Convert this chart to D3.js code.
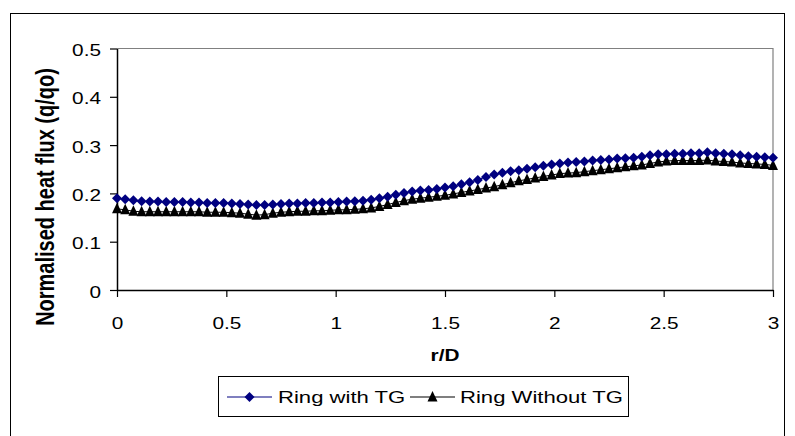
<!DOCTYPE html>
<html><head><meta charset="utf-8">
<script src="https://cdn.jsdelivr.net/npm/d3@7"></script>
<style>html,body{margin:0;padding:0;background:#fff}svg{display:block}text{font-family:"Liberation Sans",Arial,sans-serif}</style>
</head><body>
<svg id="c" width="795" height="436"></svg>
<script>
const rD = [0,0.0375,0.075,0.1125,0.15,0.1875,0.225,0.2625,0.3,0.3375,0.375,0.4125,0.45,0.4875,0.525,0.5625,0.6,0.6375,0.675,0.7125,0.75,0.7875,0.825,0.8625,0.9,0.9375,0.975,1.0125,1.05,1.0875,1.125,1.1625,1.2,1.2375,1.275,1.3125,1.35,1.3875,1.425,1.4625,1.5,1.5375,1.575,1.6125,1.65,1.6875,1.725,1.7625,1.8,1.8375,1.875,1.9125,1.95,1.9875,2.025,2.0625,2.1,2.1375,2.175,2.2125,2.25,2.2875,2.325,2.3625,2.4,2.4375,2.475,2.5125,2.55,2.5875,2.625,2.6625,2.7,2.7375,2.775,2.8125,2.85,2.8875,2.925,2.9625,3.0];
const withTG = [0.190,0.188,0.186,0.184,0.183,0.183,0.182,0.182,0.182,0.181,0.181,0.180,0.180,0.180,0.179,0.178,0.177,0.176,0.176,0.177,0.178,0.179,0.179,0.180,0.180,0.181,0.181,0.182,0.183,0.184,0.185,0.187,0.190,0.193,0.197,0.201,0.204,0.206,0.207,0.209,0.212,0.215,0.219,0.223,0.228,0.234,0.239,0.243,0.246,0.248,0.251,0.254,0.257,0.260,0.262,0.264,0.265,0.266,0.268,0.269,0.270,0.272,0.273,0.274,0.276,0.279,0.281,0.281,0.282,0.282,0.283,0.283,0.285,0.283,0.282,0.281,0.279,0.277,0.276,0.275,0.274];
const withoutTG = [0.168,0.166,0.163,0.162,0.162,0.162,0.162,0.162,0.162,0.162,0.162,0.161,0.161,0.161,0.160,0.159,0.157,0.155,0.156,0.159,0.161,0.162,0.163,0.163,0.164,0.164,0.165,0.166,0.166,0.167,0.168,0.170,0.173,0.177,0.181,0.185,0.188,0.190,0.192,0.194,0.196,0.199,0.202,0.205,0.208,0.211,0.214,0.218,0.222,0.226,0.229,0.232,0.235,0.238,0.241,0.242,0.243,0.245,0.247,0.249,0.251,0.253,0.255,0.257,0.259,0.262,0.265,0.267,0.268,0.268,0.268,0.268,0.269,0.267,0.266,0.265,0.263,0.262,0.261,0.260,0.258];
const xTicks = [0,0.5,1,1.5,2,2.5,3];
const xTickLabels = ["0","0.5","1","1.5","2","2.5","3"];
const yTicks = [0,0.1,0.2,0.3,0.4,0.5];
const yTickLabels = ["0","0.1","0.2","0.3","0.4","0.5"];
const seriesNames = ["Ring with TG","Ring Without TG"];

const SX = 1.3;
const svg = d3.select("#c");
svg.append("rect").attr("x",10.5).attr("y",13.5).attr("width",774).attr("height",440)
  .attr("fill","#fff").attr("stroke","#000").attr("stroke-width",1);

const x = d3.scaleLinear().domain([0,3]).range([117,773]);
const y = d3.scaleLinear().domain([0,0.5]).range([290,48.5]);

svg.append("path").attr("d",`M${x(0)},${y(0.5)}H${x(3)}V${y(0)}`)
  .attr("fill","none").attr("stroke","#808080").attr("stroke-width",1.2);

const gy = svg.append("g").attr("transform",`translate(${x(0)},0)`)
  .call(d3.axisLeft(y).tickValues(yTicks).tickSize(7).tickSizeOuter(0).tickFormat((d,i)=>yTickLabels[i]));
const gx = svg.append("g").attr("transform",`translate(0,${y(0)})`)
  .call(d3.axisBottom(x).tickValues(xTicks).tickSize(7).tickSizeOuter(0).tickFormat((d,i)=>xTickLabels[i]));
[gy,gx].forEach(g=>{
  g.selectAll("path.domain").attr("stroke","#000").attr("stroke-width",1.5);
  g.selectAll(".tick line").attr("stroke","#000").attr("stroke-width",1.2);
  g.selectAll("text").attr("font-size",16).attr("fill","#000").attr("font-family","Liberation Sans, Arial, sans-serif");
});
gy.selectAll("text").attr("x",null).attr("dy",null).attr("text-anchor","end")
  .attr("transform",`translate(-16,7) scale(${SX},1)`);
gx.selectAll("text").attr("y",null).attr("dy",null)
  .attr("transform",`translate(0,39) scale(${SX},1)`);

const series = [
  {name:seriesNames[0], vals:withTG, color:"#000080", shape:"diamond"},
  {name:seriesNames[1], vals:withoutTG, color:"#000000", shape:"triangle"}
];
const diamond = "M0,-5L5,0L0,5L-5,0Z";
const triangle = "M0,-6L5,4.5L-5,4.5Z";
const line = d3.line().x(d=>x(d[0])).y(d=>y(d[1]));

[series[1],series[0]].forEach(s=>{
  const pts = rD.map((r,i)=>[r,s.vals[i]]);
  svg.append("path").attr("d",line(pts)).attr("fill","none").attr("stroke",s.color).attr("stroke-width",1);
  svg.append("g").selectAll("path").data(pts).join("path")
    .attr("transform",d=>`translate(${x(d[0])},${y(d[1])})`)
    .attr("d",s.shape==="diamond"?diamond:triangle).attr("fill",s.color);
});

svg.append("text").attr("transform",`translate(${(x(0)+x(3))/2},361) scale(${SX},1)`)
  .attr("text-anchor","middle").attr("font-weight","bold").attr("font-size",16).text("r/D");
svg.append("text").attr("transform",`translate(54,197) rotate(-90) scale(1,${SX})`)
  .attr("text-anchor","middle").attr("font-weight","bold").attr("font-size",20).text("Normalised heat flux (q/qo)");

const lg = svg.append("g");
lg.append("rect").attr("x",218.5).attr("y",376.5).attr("width",410).attr("height",40)
  .attr("fill","#fff").attr("stroke","#000").attr("stroke-width",1);
const legendItems = [
  {s:series[0], x0:227, x1:272, tx:278},
  {s:series[1], x0:410, x1:455, tx:460}
];
legendItems.forEach(it=>{
  const ly = 397;
  lg.append("line").attr("x1",it.x0).attr("x2",it.x1).attr("y1",ly).attr("y2",ly).attr("stroke",it.s.color).attr("stroke-width",1.2);
  lg.append("path").attr("transform",`translate(${(it.x0+it.x1)/2},${ly})`)
    .attr("d",it.s.shape==="diamond"?diamond:triangle).attr("fill",it.s.color);
  lg.append("text").attr("transform",`translate(${it.tx},403) scale(${SX},1)`)
    .attr("font-size",17).attr("fill","#000").text(it.s.name);
});
</script>
</body></html>
